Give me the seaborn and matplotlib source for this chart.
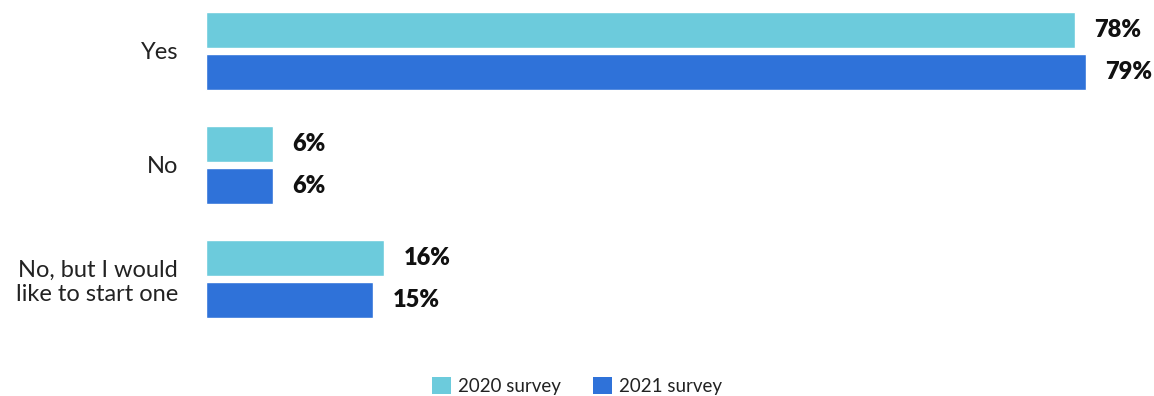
import matplotlib
matplotlib.use("Agg")
import matplotlib.pyplot as plt
import seaborn as sns
import pandas as pd
from matplotlib.patches import Patch

categories = ["Yes", "No", "No, but I would\nlike to start one"]
surveys = ["2020 survey", "2021 survey"]
values_2020 = [78, 6, 16]
values_2021 = [79, 6, 15]
colors = ["#6ccbdc", "#2f72d9"]

df = pd.DataFrame({
    "answer": categories * 2,
    "survey": [surveys[0]] * 3 + [surveys[1]] * 3,
    "pct": values_2020 + values_2021,
})

sns.set_theme(style="white")
plt.rcParams["font.family"] = ["Lato", "DejaVu Sans"]

W, H = 1154, 396
fig = plt.figure(figsize=(W / 100, H / 100), dpi=100)
ax = fig.add_axes([206 / W, 56 / H, 1 - 206 / W, 340 / H])

sns.barplot(data=df, y="answer", x="pct", hue="survey", orient="h",
            palette=colors, width=0.74, gap=0.143, saturation=1,
            legend=False, ax=ax)

ax.set_xlim(0, (W - 206) / 11.14)
ax.set_ylim((340 - 51) / 114, -51 / 114)
for s in ax.spines.values():
    s.set_visible(False)
ax.set_xticks([])
ax.set_xlabel("")
ax.set_ylabel("")
ax.tick_params(axis="y", length=0, pad=20, labelsize=17, labelcolor="#222222")

for cont in ax.containers:
    ax.bar_label(cont, labels=[f"{v:.0f}%" for v in cont.datavalues],
                 padding=14, fontsize=17, fontweight="heavy", color="#111111")

handles = [Patch(facecolor=c, edgecolor="none") for c in colors]
fig.legend(handles, surveys, loc="center", bbox_to_anchor=(577 / W, 1 - 386 / H),
           ncol=2, frameon=False, fontsize=13.5, handlelength=1.0, handleheight=1.0,
           handletextpad=0.35, columnspacing=1.75, labelcolor="#222222")

fig.savefig("out.png", dpi=100)
